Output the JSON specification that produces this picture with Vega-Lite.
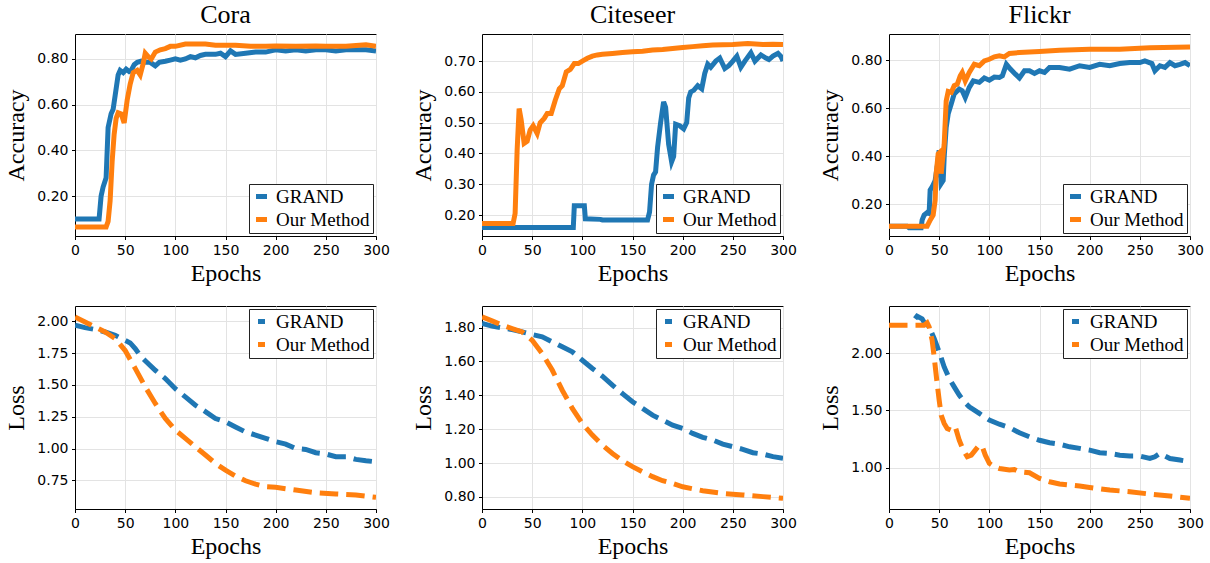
{
  "$schema": "https://vega.github.io/schema/vega-lite/v6.json",
  "background": "white",
  "padding": {"left": 4, "top": 1, "right": 4, "bottom": 4},
  "bounds": "flush",
  "columns": 3,
  "spacing": {"row": 70, "column": 106},
  "resolve": {"legend": {"color": "independent"}, "scale": {"x": "independent", "y": "independent"}},
  "config": {
    "font": "DejaVu Sans",
    "view": {"stroke": "#000", "strokeWidth": 1},
    "axis": {"domainColor": "#000", "tickColor": "#000", "tickSize": 3.5, "labelFont": "DejaVu Sans", "labelFontSize": 14, "labelColor": "#000", "labelPadding": 3.5, "labelFlush": false, "titleFont": "Liberation Serif", "titleFontSize": 24, "titleFontWeight": "normal", "titleColor": "#000", "gridColor": "#e3e3e3", "gridWidth": 1, "titlePadding": 8},
    "axisX": {"titlePadding": 4},
    "title": {"font": "Liberation Serif", "fontSize": 26, "fontWeight": "normal", "color": "#000", "frame": "group", "offset": 6},
    "legend": {"labelFont": "Liberation Serif", "labelFontSize": 19, "labelColor": "#000", "symbolType": "stroke", "symbolStrokeWidth": 5, "padding": 3, "rowPadding": 2, "labelOffset": 5, "strokeColor": "#222", "fillColor": "white", "cornerRadius": 0, "offset": 3, "title": null}
  },
  "data": {"values": [
    {"panel": "cora_acc", "method": "GRAND", "epoch": 0, "value": 0.1},
    {"panel": "cora_acc", "method": "GRAND", "epoch": 24, "value": 0.1},
    {"panel": "cora_acc", "method": "GRAND", "epoch": 26, "value": 0.2},
    {"panel": "cora_acc", "method": "GRAND", "epoch": 28, "value": 0.24},
    {"panel": "cora_acc", "method": "GRAND", "epoch": 31, "value": 0.28},
    {"panel": "cora_acc", "method": "GRAND", "epoch": 33, "value": 0.5},
    {"panel": "cora_acc", "method": "GRAND", "epoch": 36, "value": 0.56},
    {"panel": "cora_acc", "method": "GRAND", "epoch": 38, "value": 0.58},
    {"panel": "cora_acc", "method": "GRAND", "epoch": 40, "value": 0.64},
    {"panel": "cora_acc", "method": "GRAND", "epoch": 43, "value": 0.73},
    {"panel": "cora_acc", "method": "GRAND", "epoch": 45, "value": 0.75},
    {"panel": "cora_acc", "method": "GRAND", "epoch": 48, "value": 0.74},
    {"panel": "cora_acc", "method": "GRAND", "epoch": 51, "value": 0.755},
    {"panel": "cora_acc", "method": "GRAND", "epoch": 54, "value": 0.745},
    {"panel": "cora_acc", "method": "GRAND", "epoch": 56, "value": 0.75},
    {"panel": "cora_acc", "method": "GRAND", "epoch": 59, "value": 0.775},
    {"panel": "cora_acc", "method": "GRAND", "epoch": 62, "value": 0.785},
    {"panel": "cora_acc", "method": "GRAND", "epoch": 66, "value": 0.79},
    {"panel": "cora_acc", "method": "GRAND", "epoch": 70, "value": 0.785},
    {"panel": "cora_acc", "method": "GRAND", "epoch": 75, "value": 0.785},
    {"panel": "cora_acc", "method": "GRAND", "epoch": 80, "value": 0.77},
    {"panel": "cora_acc", "method": "GRAND", "epoch": 84, "value": 0.785},
    {"panel": "cora_acc", "method": "GRAND", "epoch": 90, "value": 0.79},
    {"panel": "cora_acc", "method": "GRAND", "epoch": 95, "value": 0.795},
    {"panel": "cora_acc", "method": "GRAND", "epoch": 100, "value": 0.8},
    {"panel": "cora_acc", "method": "GRAND", "epoch": 105, "value": 0.795},
    {"panel": "cora_acc", "method": "GRAND", "epoch": 110, "value": 0.8},
    {"panel": "cora_acc", "method": "GRAND", "epoch": 115, "value": 0.81},
    {"panel": "cora_acc", "method": "GRAND", "epoch": 120, "value": 0.805},
    {"panel": "cora_acc", "method": "GRAND", "epoch": 125, "value": 0.815},
    {"panel": "cora_acc", "method": "GRAND", "epoch": 130, "value": 0.82},
    {"panel": "cora_acc", "method": "GRAND", "epoch": 140, "value": 0.82},
    {"panel": "cora_acc", "method": "GRAND", "epoch": 145, "value": 0.825},
    {"panel": "cora_acc", "method": "GRAND", "epoch": 150, "value": 0.81},
    {"panel": "cora_acc", "method": "GRAND", "epoch": 155, "value": 0.835},
    {"panel": "cora_acc", "method": "GRAND", "epoch": 160, "value": 0.82},
    {"panel": "cora_acc", "method": "GRAND", "epoch": 170, "value": 0.825},
    {"panel": "cora_acc", "method": "GRAND", "epoch": 180, "value": 0.83},
    {"panel": "cora_acc", "method": "GRAND", "epoch": 190, "value": 0.83},
    {"panel": "cora_acc", "method": "GRAND", "epoch": 200, "value": 0.84},
    {"panel": "cora_acc", "method": "GRAND", "epoch": 210, "value": 0.835},
    {"panel": "cora_acc", "method": "GRAND", "epoch": 220, "value": 0.84},
    {"panel": "cora_acc", "method": "GRAND", "epoch": 230, "value": 0.835},
    {"panel": "cora_acc", "method": "GRAND", "epoch": 240, "value": 0.84},
    {"panel": "cora_acc", "method": "GRAND", "epoch": 250, "value": 0.84},
    {"panel": "cora_acc", "method": "GRAND", "epoch": 260, "value": 0.835},
    {"panel": "cora_acc", "method": "GRAND", "epoch": 270, "value": 0.84},
    {"panel": "cora_acc", "method": "GRAND", "epoch": 280, "value": 0.84},
    {"panel": "cora_acc", "method": "GRAND", "epoch": 290, "value": 0.84},
    {"panel": "cora_acc", "method": "GRAND", "epoch": 300, "value": 0.835},
    {"panel": "cora_acc", "method": "Our Method", "epoch": 0, "value": 0.065},
    {"panel": "cora_acc", "method": "Our Method", "epoch": 31, "value": 0.065},
    {"panel": "cora_acc", "method": "Our Method", "epoch": 33, "value": 0.09},
    {"panel": "cora_acc", "method": "Our Method", "epoch": 35, "value": 0.18},
    {"panel": "cora_acc", "method": "Our Method", "epoch": 37, "value": 0.35},
    {"panel": "cora_acc", "method": "Our Method", "epoch": 39, "value": 0.47},
    {"panel": "cora_acc", "method": "Our Method", "epoch": 41, "value": 0.54},
    {"panel": "cora_acc", "method": "Our Method", "epoch": 43, "value": 0.565},
    {"panel": "cora_acc", "method": "Our Method", "epoch": 46, "value": 0.56},
    {"panel": "cora_acc", "method": "Our Method", "epoch": 49, "value": 0.52},
    {"panel": "cora_acc", "method": "Our Method", "epoch": 52, "value": 0.62},
    {"panel": "cora_acc", "method": "Our Method", "epoch": 55, "value": 0.69},
    {"panel": "cora_acc", "method": "Our Method", "epoch": 58, "value": 0.74},
    {"panel": "cora_acc", "method": "Our Method", "epoch": 62, "value": 0.75},
    {"panel": "cora_acc", "method": "Our Method", "epoch": 65, "value": 0.73},
    {"panel": "cora_acc", "method": "Our Method", "epoch": 68, "value": 0.78},
    {"panel": "cora_acc", "method": "Our Method", "epoch": 70, "value": 0.825},
    {"panel": "cora_acc", "method": "Our Method", "epoch": 73, "value": 0.81},
    {"panel": "cora_acc", "method": "Our Method", "epoch": 76, "value": 0.8},
    {"panel": "cora_acc", "method": "Our Method", "epoch": 80, "value": 0.83},
    {"panel": "cora_acc", "method": "Our Method", "epoch": 85, "value": 0.84},
    {"panel": "cora_acc", "method": "Our Method", "epoch": 90, "value": 0.845},
    {"panel": "cora_acc", "method": "Our Method", "epoch": 95, "value": 0.855},
    {"panel": "cora_acc", "method": "Our Method", "epoch": 100, "value": 0.855},
    {"panel": "cora_acc", "method": "Our Method", "epoch": 110, "value": 0.865},
    {"panel": "cora_acc", "method": "Our Method", "epoch": 120, "value": 0.865},
    {"panel": "cora_acc", "method": "Our Method", "epoch": 130, "value": 0.865},
    {"panel": "cora_acc", "method": "Our Method", "epoch": 140, "value": 0.86},
    {"panel": "cora_acc", "method": "Our Method", "epoch": 150, "value": 0.86},
    {"panel": "cora_acc", "method": "Our Method", "epoch": 160, "value": 0.86},
    {"panel": "cora_acc", "method": "Our Method", "epoch": 175, "value": 0.855},
    {"panel": "cora_acc", "method": "Our Method", "epoch": 190, "value": 0.855},
    {"panel": "cora_acc", "method": "Our Method", "epoch": 200, "value": 0.857},
    {"panel": "cora_acc", "method": "Our Method", "epoch": 220, "value": 0.855},
    {"panel": "cora_acc", "method": "Our Method", "epoch": 240, "value": 0.857},
    {"panel": "cora_acc", "method": "Our Method", "epoch": 250, "value": 0.855},
    {"panel": "cora_acc", "method": "Our Method", "epoch": 270, "value": 0.855},
    {"panel": "cora_acc", "method": "Our Method", "epoch": 290, "value": 0.862},
    {"panel": "cora_acc", "method": "Our Method", "epoch": 300, "value": 0.855},

    {"panel": "cite_acc", "method": "GRAND", "epoch": 0, "value": 0.16},
    {"panel": "cite_acc", "method": "GRAND", "epoch": 91, "value": 0.16},
    {"panel": "cite_acc", "method": "GRAND", "epoch": 92, "value": 0.23},
    {"panel": "cite_acc", "method": "GRAND", "epoch": 102, "value": 0.23},
    {"panel": "cite_acc", "method": "GRAND", "epoch": 103, "value": 0.188},
    {"panel": "cite_acc", "method": "GRAND", "epoch": 118, "value": 0.186},
    {"panel": "cite_acc", "method": "GRAND", "epoch": 120, "value": 0.184},
    {"panel": "cite_acc", "method": "GRAND", "epoch": 165, "value": 0.184},
    {"panel": "cite_acc", "method": "GRAND", "epoch": 167, "value": 0.21},
    {"panel": "cite_acc", "method": "GRAND", "epoch": 169, "value": 0.3},
    {"panel": "cite_acc", "method": "GRAND", "epoch": 171, "value": 0.33},
    {"panel": "cite_acc", "method": "GRAND", "epoch": 173, "value": 0.34},
    {"panel": "cite_acc", "method": "GRAND", "epoch": 175, "value": 0.42},
    {"panel": "cite_acc", "method": "GRAND", "epoch": 178, "value": 0.5},
    {"panel": "cite_acc", "method": "GRAND", "epoch": 181, "value": 0.568},
    {"panel": "cite_acc", "method": "GRAND", "epoch": 183, "value": 0.55},
    {"panel": "cite_acc", "method": "GRAND", "epoch": 186, "value": 0.43},
    {"panel": "cite_acc", "method": "GRAND", "epoch": 189, "value": 0.373},
    {"panel": "cite_acc", "method": "GRAND", "epoch": 191, "value": 0.39},
    {"panel": "cite_acc", "method": "GRAND", "epoch": 193, "value": 0.495},
    {"panel": "cite_acc", "method": "GRAND", "epoch": 197, "value": 0.49},
    {"panel": "cite_acc", "method": "GRAND", "epoch": 201, "value": 0.48},
    {"panel": "cite_acc", "method": "GRAND", "epoch": 204, "value": 0.5},
    {"panel": "cite_acc", "method": "GRAND", "epoch": 206, "value": 0.58},
    {"panel": "cite_acc", "method": "GRAND", "epoch": 208, "value": 0.6},
    {"panel": "cite_acc", "method": "GRAND", "epoch": 211, "value": 0.605},
    {"panel": "cite_acc", "method": "GRAND", "epoch": 215, "value": 0.62},
    {"panel": "cite_acc", "method": "GRAND", "epoch": 219, "value": 0.61},
    {"panel": "cite_acc", "method": "GRAND", "epoch": 222, "value": 0.66},
    {"panel": "cite_acc", "method": "GRAND", "epoch": 225, "value": 0.69},
    {"panel": "cite_acc", "method": "GRAND", "epoch": 228, "value": 0.68},
    {"panel": "cite_acc", "method": "GRAND", "epoch": 233, "value": 0.7},
    {"panel": "cite_acc", "method": "GRAND", "epoch": 237, "value": 0.71},
    {"panel": "cite_acc", "method": "GRAND", "epoch": 242, "value": 0.676},
    {"panel": "cite_acc", "method": "GRAND", "epoch": 246, "value": 0.685},
    {"panel": "cite_acc", "method": "GRAND", "epoch": 250, "value": 0.7},
    {"panel": "cite_acc", "method": "GRAND", "epoch": 254, "value": 0.716},
    {"panel": "cite_acc", "method": "GRAND", "epoch": 258, "value": 0.68},
    {"panel": "cite_acc", "method": "GRAND", "epoch": 262, "value": 0.7},
    {"panel": "cite_acc", "method": "GRAND", "epoch": 268, "value": 0.727},
    {"panel": "cite_acc", "method": "GRAND", "epoch": 272, "value": 0.7},
    {"panel": "cite_acc", "method": "GRAND", "epoch": 278, "value": 0.72},
    {"panel": "cite_acc", "method": "GRAND", "epoch": 283, "value": 0.71},
    {"panel": "cite_acc", "method": "GRAND", "epoch": 286, "value": 0.705},
    {"panel": "cite_acc", "method": "GRAND", "epoch": 290, "value": 0.716},
    {"panel": "cite_acc", "method": "GRAND", "epoch": 295, "value": 0.725},
    {"panel": "cite_acc", "method": "GRAND", "epoch": 298, "value": 0.715},
    {"panel": "cite_acc", "method": "GRAND", "epoch": 300, "value": 0.7},
    {"panel": "cite_acc", "method": "Our Method", "epoch": 0, "value": 0.173},
    {"panel": "cite_acc", "method": "Our Method", "epoch": 31, "value": 0.173},
    {"panel": "cite_acc", "method": "Our Method", "epoch": 33, "value": 0.205},
    {"panel": "cite_acc", "method": "Our Method", "epoch": 35, "value": 0.41},
    {"panel": "cite_acc", "method": "Our Method", "epoch": 37, "value": 0.546},
    {"panel": "cite_acc", "method": "Our Method", "epoch": 39, "value": 0.51},
    {"panel": "cite_acc", "method": "Our Method", "epoch": 42, "value": 0.433},
    {"panel": "cite_acc", "method": "Our Method", "epoch": 45, "value": 0.44},
    {"panel": "cite_acc", "method": "Our Method", "epoch": 48, "value": 0.476},
    {"panel": "cite_acc", "method": "Our Method", "epoch": 51, "value": 0.49},
    {"panel": "cite_acc", "method": "Our Method", "epoch": 55, "value": 0.465},
    {"panel": "cite_acc", "method": "Our Method", "epoch": 58, "value": 0.5},
    {"panel": "cite_acc", "method": "Our Method", "epoch": 62, "value": 0.514},
    {"panel": "cite_acc", "method": "Our Method", "epoch": 65, "value": 0.53},
    {"panel": "cite_acc", "method": "Our Method", "epoch": 69, "value": 0.53},
    {"panel": "cite_acc", "method": "Our Method", "epoch": 73, "value": 0.573},
    {"panel": "cite_acc", "method": "Our Method", "epoch": 77, "value": 0.61},
    {"panel": "cite_acc", "method": "Our Method", "epoch": 80, "value": 0.62},
    {"panel": "cite_acc", "method": "Our Method", "epoch": 84, "value": 0.665},
    {"panel": "cite_acc", "method": "Our Method", "epoch": 88, "value": 0.673},
    {"panel": "cite_acc", "method": "Our Method", "epoch": 92, "value": 0.692},
    {"panel": "cite_acc", "method": "Our Method", "epoch": 96, "value": 0.692},
    {"panel": "cite_acc", "method": "Our Method", "epoch": 100, "value": 0.7},
    {"panel": "cite_acc", "method": "Our Method", "epoch": 105, "value": 0.709},
    {"panel": "cite_acc", "method": "Our Method", "epoch": 110, "value": 0.716},
    {"panel": "cite_acc", "method": "Our Method", "epoch": 115, "value": 0.72},
    {"panel": "cite_acc", "method": "Our Method", "epoch": 120, "value": 0.722},
    {"panel": "cite_acc", "method": "Our Method", "epoch": 130, "value": 0.725},
    {"panel": "cite_acc", "method": "Our Method", "epoch": 140, "value": 0.728},
    {"panel": "cite_acc", "method": "Our Method", "epoch": 150, "value": 0.73},
    {"panel": "cite_acc", "method": "Our Method", "epoch": 160, "value": 0.732},
    {"panel": "cite_acc", "method": "Our Method", "epoch": 170, "value": 0.736},
    {"panel": "cite_acc", "method": "Our Method", "epoch": 180, "value": 0.738},
    {"panel": "cite_acc", "method": "Our Method", "epoch": 190, "value": 0.741},
    {"panel": "cite_acc", "method": "Our Method", "epoch": 200, "value": 0.744},
    {"panel": "cite_acc", "method": "Our Method", "epoch": 210, "value": 0.747},
    {"panel": "cite_acc", "method": "Our Method", "epoch": 220, "value": 0.75},
    {"panel": "cite_acc", "method": "Our Method", "epoch": 230, "value": 0.752},
    {"panel": "cite_acc", "method": "Our Method", "epoch": 240, "value": 0.753},
    {"panel": "cite_acc", "method": "Our Method", "epoch": 250, "value": 0.754},
    {"panel": "cite_acc", "method": "Our Method", "epoch": 265, "value": 0.757},
    {"panel": "cite_acc", "method": "Our Method", "epoch": 280, "value": 0.754},
    {"panel": "cite_acc", "method": "Our Method", "epoch": 290, "value": 0.755},
    {"panel": "cite_acc", "method": "Our Method", "epoch": 300, "value": 0.754},

    {"panel": "flickr_acc", "method": "GRAND", "epoch": 0, "value": 0.11},
    {"panel": "flickr_acc", "method": "GRAND", "epoch": 18, "value": 0.11},
    {"panel": "flickr_acc", "method": "GRAND", "epoch": 20, "value": 0.103},
    {"panel": "flickr_acc", "method": "GRAND", "epoch": 32, "value": 0.103},
    {"panel": "flickr_acc", "method": "GRAND", "epoch": 33, "value": 0.135},
    {"panel": "flickr_acc", "method": "GRAND", "epoch": 35, "value": 0.156},
    {"panel": "flickr_acc", "method": "GRAND", "epoch": 38, "value": 0.166},
    {"panel": "flickr_acc", "method": "GRAND", "epoch": 40, "value": 0.163},
    {"panel": "flickr_acc", "method": "GRAND", "epoch": 41, "value": 0.26},
    {"panel": "flickr_acc", "method": "GRAND", "epoch": 43, "value": 0.273},
    {"panel": "flickr_acc", "method": "GRAND", "epoch": 46, "value": 0.3},
    {"panel": "flickr_acc", "method": "GRAND", "epoch": 48, "value": 0.356},
    {"panel": "flickr_acc", "method": "GRAND", "epoch": 50, "value": 0.425},
    {"panel": "flickr_acc", "method": "GRAND", "epoch": 51, "value": 0.356},
    {"panel": "flickr_acc", "method": "GRAND", "epoch": 52, "value": 0.287},
    {"panel": "flickr_acc", "method": "GRAND", "epoch": 54, "value": 0.3},
    {"panel": "flickr_acc", "method": "GRAND", "epoch": 55, "value": 0.397},
    {"panel": "flickr_acc", "method": "GRAND", "epoch": 57, "value": 0.52},
    {"panel": "flickr_acc", "method": "GRAND", "epoch": 59, "value": 0.577},
    {"panel": "flickr_acc", "method": "GRAND", "epoch": 62, "value": 0.618},
    {"panel": "flickr_acc", "method": "GRAND", "epoch": 65, "value": 0.66},
    {"panel": "flickr_acc", "method": "GRAND", "epoch": 70, "value": 0.68},
    {"panel": "flickr_acc", "method": "GRAND", "epoch": 73, "value": 0.673},
    {"panel": "flickr_acc", "method": "GRAND", "epoch": 76, "value": 0.645},
    {"panel": "flickr_acc", "method": "GRAND", "epoch": 80, "value": 0.687},
    {"panel": "flickr_acc", "method": "GRAND", "epoch": 84, "value": 0.714},
    {"panel": "flickr_acc", "method": "GRAND", "epoch": 90, "value": 0.708},
    {"panel": "flickr_acc", "method": "GRAND", "epoch": 95, "value": 0.726},
    {"panel": "flickr_acc", "method": "GRAND", "epoch": 100, "value": 0.717},
    {"panel": "flickr_acc", "method": "GRAND", "epoch": 105, "value": 0.73},
    {"panel": "flickr_acc", "method": "GRAND", "epoch": 110, "value": 0.728},
    {"panel": "flickr_acc", "method": "GRAND", "epoch": 113, "value": 0.735},
    {"panel": "flickr_acc", "method": "GRAND", "epoch": 117, "value": 0.783},
    {"panel": "flickr_acc", "method": "GRAND", "epoch": 121, "value": 0.763},
    {"panel": "flickr_acc", "method": "GRAND", "epoch": 126, "value": 0.742},
    {"panel": "flickr_acc", "method": "GRAND", "epoch": 130, "value": 0.726},
    {"panel": "flickr_acc", "method": "GRAND", "epoch": 135, "value": 0.756},
    {"panel": "flickr_acc", "method": "GRAND", "epoch": 140, "value": 0.756},
    {"panel": "flickr_acc", "method": "GRAND", "epoch": 145, "value": 0.745},
    {"panel": "flickr_acc", "method": "GRAND", "epoch": 150, "value": 0.756},
    {"panel": "flickr_acc", "method": "GRAND", "epoch": 155, "value": 0.749},
    {"panel": "flickr_acc", "method": "GRAND", "epoch": 160, "value": 0.77},
    {"panel": "flickr_acc", "method": "GRAND", "epoch": 170, "value": 0.77},
    {"panel": "flickr_acc", "method": "GRAND", "epoch": 180, "value": 0.763},
    {"panel": "flickr_acc", "method": "GRAND", "epoch": 190, "value": 0.777},
    {"panel": "flickr_acc", "method": "GRAND", "epoch": 200, "value": 0.77},
    {"panel": "flickr_acc", "method": "GRAND", "epoch": 210, "value": 0.783},
    {"panel": "flickr_acc", "method": "GRAND", "epoch": 220, "value": 0.777},
    {"panel": "flickr_acc", "method": "GRAND", "epoch": 230, "value": 0.786},
    {"panel": "flickr_acc", "method": "GRAND", "epoch": 240, "value": 0.79},
    {"panel": "flickr_acc", "method": "GRAND", "epoch": 250, "value": 0.79},
    {"panel": "flickr_acc", "method": "GRAND", "epoch": 255, "value": 0.797},
    {"panel": "flickr_acc", "method": "GRAND", "epoch": 262, "value": 0.786},
    {"panel": "flickr_acc", "method": "GRAND", "epoch": 265, "value": 0.756},
    {"panel": "flickr_acc", "method": "GRAND", "epoch": 270, "value": 0.777},
    {"panel": "flickr_acc", "method": "GRAND", "epoch": 275, "value": 0.77},
    {"panel": "flickr_acc", "method": "GRAND", "epoch": 280, "value": 0.79},
    {"panel": "flickr_acc", "method": "GRAND", "epoch": 285, "value": 0.777},
    {"panel": "flickr_acc", "method": "GRAND", "epoch": 290, "value": 0.783},
    {"panel": "flickr_acc", "method": "GRAND", "epoch": 295, "value": 0.79},
    {"panel": "flickr_acc", "method": "GRAND", "epoch": 300, "value": 0.777},
    {"panel": "flickr_acc", "method": "Our Method", "epoch": 0, "value": 0.11},
    {"panel": "flickr_acc", "method": "Our Method", "epoch": 38, "value": 0.11},
    {"panel": "flickr_acc", "method": "Our Method", "epoch": 41, "value": 0.135},
    {"panel": "flickr_acc", "method": "Our Method", "epoch": 44, "value": 0.156},
    {"panel": "flickr_acc", "method": "Our Method", "epoch": 46, "value": 0.218},
    {"panel": "flickr_acc", "method": "Our Method", "epoch": 47, "value": 0.328},
    {"panel": "flickr_acc", "method": "Our Method", "epoch": 49, "value": 0.41},
    {"panel": "flickr_acc", "method": "Our Method", "epoch": 51, "value": 0.418},
    {"panel": "flickr_acc", "method": "Our Method", "epoch": 52, "value": 0.328},
    {"panel": "flickr_acc", "method": "Our Method", "epoch": 53, "value": 0.37},
    {"panel": "flickr_acc", "method": "Our Method", "epoch": 55, "value": 0.45},
    {"panel": "flickr_acc", "method": "Our Method", "epoch": 57, "value": 0.63},
    {"panel": "flickr_acc", "method": "Our Method", "epoch": 59, "value": 0.67},
    {"panel": "flickr_acc", "method": "Our Method", "epoch": 62, "value": 0.666},
    {"panel": "flickr_acc", "method": "Our Method", "epoch": 65, "value": 0.694},
    {"panel": "flickr_acc", "method": "Our Method", "epoch": 68, "value": 0.7},
    {"panel": "flickr_acc", "method": "Our Method", "epoch": 71, "value": 0.735},
    {"panel": "flickr_acc", "method": "Our Method", "epoch": 73, "value": 0.749},
    {"panel": "flickr_acc", "method": "Our Method", "epoch": 76, "value": 0.714},
    {"panel": "flickr_acc", "method": "Our Method", "epoch": 80, "value": 0.749},
    {"panel": "flickr_acc", "method": "Our Method", "epoch": 85, "value": 0.783},
    {"panel": "flickr_acc", "method": "Our Method", "epoch": 90, "value": 0.777},
    {"panel": "flickr_acc", "method": "Our Method", "epoch": 95, "value": 0.797},
    {"panel": "flickr_acc", "method": "Our Method", "epoch": 100, "value": 0.804},
    {"panel": "flickr_acc", "method": "Our Method", "epoch": 105, "value": 0.814},
    {"panel": "flickr_acc", "method": "Our Method", "epoch": 110, "value": 0.818},
    {"panel": "flickr_acc", "method": "Our Method", "epoch": 115, "value": 0.814},
    {"panel": "flickr_acc", "method": "Our Method", "epoch": 120, "value": 0.828},
    {"panel": "flickr_acc", "method": "Our Method", "epoch": 130, "value": 0.832},
    {"panel": "flickr_acc", "method": "Our Method", "epoch": 150, "value": 0.836},
    {"panel": "flickr_acc", "method": "Our Method", "epoch": 170, "value": 0.841},
    {"panel": "flickr_acc", "method": "Our Method", "epoch": 200, "value": 0.846},
    {"panel": "flickr_acc", "method": "Our Method", "epoch": 230, "value": 0.846},
    {"panel": "flickr_acc", "method": "Our Method", "epoch": 260, "value": 0.852},
    {"panel": "flickr_acc", "method": "Our Method", "epoch": 300, "value": 0.855},

    {"panel": "cora_loss", "method": "GRAND", "epoch": 0, "value": 1.969},
    {"panel": "cora_loss", "method": "GRAND", "epoch": 10, "value": 1.95},
    {"panel": "cora_loss", "method": "GRAND", "epoch": 20, "value": 1.935},
    {"panel": "cora_loss", "method": "GRAND", "epoch": 30, "value": 1.916},
    {"panel": "cora_loss", "method": "GRAND", "epoch": 40, "value": 1.89},
    {"panel": "cora_loss", "method": "GRAND", "epoch": 50, "value": 1.85},
    {"panel": "cora_loss", "method": "GRAND", "epoch": 55, "value": 1.83},
    {"panel": "cora_loss", "method": "GRAND", "epoch": 60, "value": 1.786},
    {"panel": "cora_loss", "method": "GRAND", "epoch": 65, "value": 1.73},
    {"panel": "cora_loss", "method": "GRAND", "epoch": 70, "value": 1.69},
    {"panel": "cora_loss", "method": "GRAND", "epoch": 80, "value": 1.615},
    {"panel": "cora_loss", "method": "GRAND", "epoch": 90, "value": 1.55},
    {"panel": "cora_loss", "method": "GRAND", "epoch": 100, "value": 1.47},
    {"panel": "cora_loss", "method": "GRAND", "epoch": 110, "value": 1.406},
    {"panel": "cora_loss", "method": "GRAND", "epoch": 120, "value": 1.34},
    {"panel": "cora_loss", "method": "GRAND", "epoch": 130, "value": 1.29},
    {"panel": "cora_loss", "method": "GRAND", "epoch": 140, "value": 1.236},
    {"panel": "cora_loss", "method": "GRAND", "epoch": 150, "value": 1.21},
    {"panel": "cora_loss", "method": "GRAND", "epoch": 160, "value": 1.17},
    {"panel": "cora_loss", "method": "GRAND", "epoch": 170, "value": 1.13},
    {"panel": "cora_loss", "method": "GRAND", "epoch": 180, "value": 1.106},
    {"panel": "cora_loss", "method": "GRAND", "epoch": 190, "value": 1.08},
    {"panel": "cora_loss", "method": "GRAND", "epoch": 200, "value": 1.054},
    {"panel": "cora_loss", "method": "GRAND", "epoch": 210, "value": 1.035},
    {"panel": "cora_loss", "method": "GRAND", "epoch": 220, "value": 1.0},
    {"panel": "cora_loss", "method": "GRAND", "epoch": 230, "value": 0.993},
    {"panel": "cora_loss", "method": "GRAND", "epoch": 240, "value": 0.967},
    {"panel": "cora_loss", "method": "GRAND", "epoch": 250, "value": 0.957},
    {"panel": "cora_loss", "method": "GRAND", "epoch": 260, "value": 0.936},
    {"panel": "cora_loss", "method": "GRAND", "epoch": 270, "value": 0.936},
    {"panel": "cora_loss", "method": "GRAND", "epoch": 280, "value": 0.915},
    {"panel": "cora_loss", "method": "GRAND", "epoch": 290, "value": 0.904},
    {"panel": "cora_loss", "method": "GRAND", "epoch": 300, "value": 0.896},
    {"panel": "cora_loss", "method": "Our Method", "epoch": 0, "value": 2.034},
    {"panel": "cora_loss", "method": "Our Method", "epoch": 10, "value": 1.995},
    {"panel": "cora_loss", "method": "Our Method", "epoch": 20, "value": 1.955},
    {"panel": "cora_loss", "method": "Our Method", "epoch": 30, "value": 1.916},
    {"panel": "cora_loss", "method": "Our Method", "epoch": 40, "value": 1.864},
    {"panel": "cora_loss", "method": "Our Method", "epoch": 50, "value": 1.77},
    {"panel": "cora_loss", "method": "Our Method", "epoch": 60, "value": 1.63},
    {"panel": "cora_loss", "method": "Our Method", "epoch": 70, "value": 1.485},
    {"panel": "cora_loss", "method": "Our Method", "epoch": 80, "value": 1.354},
    {"panel": "cora_loss", "method": "Our Method", "epoch": 90, "value": 1.236},
    {"panel": "cora_loss", "method": "Our Method", "epoch": 100, "value": 1.145},
    {"panel": "cora_loss", "method": "Our Method", "epoch": 110, "value": 1.08},
    {"panel": "cora_loss", "method": "Our Method", "epoch": 120, "value": 1.014},
    {"panel": "cora_loss", "method": "Our Method", "epoch": 130, "value": 0.949},
    {"panel": "cora_loss", "method": "Our Method", "epoch": 140, "value": 0.883},
    {"panel": "cora_loss", "method": "Our Method", "epoch": 150, "value": 0.83},
    {"panel": "cora_loss", "method": "Our Method", "epoch": 160, "value": 0.784},
    {"panel": "cora_loss", "method": "Our Method", "epoch": 170, "value": 0.747},
    {"panel": "cora_loss", "method": "Our Method", "epoch": 180, "value": 0.72},
    {"panel": "cora_loss", "method": "Our Method", "epoch": 190, "value": 0.7},
    {"panel": "cora_loss", "method": "Our Method", "epoch": 200, "value": 0.695},
    {"panel": "cora_loss", "method": "Our Method", "epoch": 220, "value": 0.674},
    {"panel": "cora_loss", "method": "Our Method", "epoch": 240, "value": 0.653},
    {"panel": "cora_loss", "method": "Our Method", "epoch": 260, "value": 0.643},
    {"panel": "cora_loss", "method": "Our Method", "epoch": 280, "value": 0.635},
    {"panel": "cora_loss", "method": "Our Method", "epoch": 300, "value": 0.617},

    {"panel": "cite_loss", "method": "GRAND", "epoch": 0, "value": 1.824},
    {"panel": "cite_loss", "method": "GRAND", "epoch": 10, "value": 1.808},
    {"panel": "cite_loss", "method": "GRAND", "epoch": 20, "value": 1.798},
    {"panel": "cite_loss", "method": "GRAND", "epoch": 30, "value": 1.788},
    {"panel": "cite_loss", "method": "GRAND", "epoch": 40, "value": 1.774},
    {"panel": "cite_loss", "method": "GRAND", "epoch": 50, "value": 1.759},
    {"panel": "cite_loss", "method": "GRAND", "epoch": 60, "value": 1.745},
    {"panel": "cite_loss", "method": "GRAND", "epoch": 70, "value": 1.716},
    {"panel": "cite_loss", "method": "GRAND", "epoch": 80, "value": 1.686},
    {"panel": "cite_loss", "method": "GRAND", "epoch": 90, "value": 1.657},
    {"panel": "cite_loss", "method": "GRAND", "epoch": 100, "value": 1.607},
    {"panel": "cite_loss", "method": "GRAND", "epoch": 110, "value": 1.558},
    {"panel": "cite_loss", "method": "GRAND", "epoch": 120, "value": 1.513},
    {"panel": "cite_loss", "method": "GRAND", "epoch": 130, "value": 1.46},
    {"panel": "cite_loss", "method": "GRAND", "epoch": 140, "value": 1.41},
    {"panel": "cite_loss", "method": "GRAND", "epoch": 150, "value": 1.362},
    {"panel": "cite_loss", "method": "GRAND", "epoch": 160, "value": 1.323},
    {"panel": "cite_loss", "method": "GRAND", "epoch": 170, "value": 1.283},
    {"panel": "cite_loss", "method": "GRAND", "epoch": 180, "value": 1.254},
    {"panel": "cite_loss", "method": "GRAND", "epoch": 190, "value": 1.224},
    {"panel": "cite_loss", "method": "GRAND", "epoch": 200, "value": 1.205},
    {"panel": "cite_loss", "method": "GRAND", "epoch": 210, "value": 1.175},
    {"panel": "cite_loss", "method": "GRAND", "epoch": 220, "value": 1.152},
    {"panel": "cite_loss", "method": "GRAND", "epoch": 230, "value": 1.136},
    {"panel": "cite_loss", "method": "GRAND", "epoch": 240, "value": 1.112},
    {"panel": "cite_loss", "method": "GRAND", "epoch": 250, "value": 1.097},
    {"panel": "cite_loss", "method": "GRAND", "epoch": 260, "value": 1.081},
    {"panel": "cite_loss", "method": "GRAND", "epoch": 270, "value": 1.061},
    {"panel": "cite_loss", "method": "GRAND", "epoch": 280, "value": 1.053},
    {"panel": "cite_loss", "method": "GRAND", "epoch": 290, "value": 1.038},
    {"panel": "cite_loss", "method": "GRAND", "epoch": 300, "value": 1.028},
    {"panel": "cite_loss", "method": "Our Method", "epoch": 0, "value": 1.863},
    {"panel": "cite_loss", "method": "Our Method", "epoch": 10, "value": 1.839},
    {"panel": "cite_loss", "method": "Our Method", "epoch": 20, "value": 1.814},
    {"panel": "cite_loss", "method": "Our Method", "epoch": 30, "value": 1.794},
    {"panel": "cite_loss", "method": "Our Method", "epoch": 40, "value": 1.774},
    {"panel": "cite_loss", "method": "Our Method", "epoch": 50, "value": 1.725},
    {"panel": "cite_loss", "method": "Our Method", "epoch": 60, "value": 1.647},
    {"panel": "cite_loss", "method": "Our Method", "epoch": 70, "value": 1.549},
    {"panel": "cite_loss", "method": "Our Method", "epoch": 80, "value": 1.43},
    {"panel": "cite_loss", "method": "Our Method", "epoch": 90, "value": 1.323},
    {"panel": "cite_loss", "method": "Our Method", "epoch": 100, "value": 1.234},
    {"panel": "cite_loss", "method": "Our Method", "epoch": 110, "value": 1.165},
    {"panel": "cite_loss", "method": "Our Method", "epoch": 120, "value": 1.106},
    {"panel": "cite_loss", "method": "Our Method", "epoch": 130, "value": 1.057},
    {"panel": "cite_loss", "method": "Our Method", "epoch": 140, "value": 1.014},
    {"panel": "cite_loss", "method": "Our Method", "epoch": 150, "value": 0.979},
    {"panel": "cite_loss", "method": "Our Method", "epoch": 160, "value": 0.949},
    {"panel": "cite_loss", "method": "Our Method", "epoch": 170, "value": 0.92},
    {"panel": "cite_loss", "method": "Our Method", "epoch": 180, "value": 0.896},
    {"panel": "cite_loss", "method": "Our Method", "epoch": 190, "value": 0.88},
    {"panel": "cite_loss", "method": "Our Method", "epoch": 200, "value": 0.86},
    {"panel": "cite_loss", "method": "Our Method", "epoch": 220, "value": 0.837},
    {"panel": "cite_loss", "method": "Our Method", "epoch": 240, "value": 0.821},
    {"panel": "cite_loss", "method": "Our Method", "epoch": 260, "value": 0.812},
    {"panel": "cite_loss", "method": "Our Method", "epoch": 280, "value": 0.802},
    {"panel": "cite_loss", "method": "Our Method", "epoch": 300, "value": 0.792},

    {"panel": "flickr_loss", "method": "GRAND", "epoch": 26, "value": 2.3},
    {"panel": "flickr_loss", "method": "GRAND", "epoch": 28, "value": 2.323},
    {"panel": "flickr_loss", "method": "GRAND", "epoch": 33, "value": 2.3},
    {"panel": "flickr_loss", "method": "GRAND", "epoch": 35, "value": 2.27},
    {"panel": "flickr_loss", "method": "GRAND", "epoch": 40, "value": 2.23},
    {"panel": "flickr_loss", "method": "GRAND", "epoch": 45, "value": 2.128},
    {"panel": "flickr_loss", "method": "GRAND", "epoch": 50, "value": 2.012},
    {"panel": "flickr_loss", "method": "GRAND", "epoch": 55, "value": 1.88},
    {"panel": "flickr_loss", "method": "GRAND", "epoch": 60, "value": 1.78},
    {"panel": "flickr_loss", "method": "GRAND", "epoch": 65, "value": 1.706},
    {"panel": "flickr_loss", "method": "GRAND", "epoch": 70, "value": 1.634},
    {"panel": "flickr_loss", "method": "GRAND", "epoch": 75, "value": 1.576},
    {"panel": "flickr_loss", "method": "GRAND", "epoch": 80, "value": 1.532},
    {"panel": "flickr_loss", "method": "GRAND", "epoch": 90, "value": 1.474},
    {"panel": "flickr_loss", "method": "GRAND", "epoch": 100, "value": 1.416},
    {"panel": "flickr_loss", "method": "GRAND", "epoch": 110, "value": 1.38},
    {"panel": "flickr_loss", "method": "GRAND", "epoch": 120, "value": 1.352},
    {"panel": "flickr_loss", "method": "GRAND", "epoch": 130, "value": 1.305},
    {"panel": "flickr_loss", "method": "GRAND", "epoch": 140, "value": 1.27},
    {"panel": "flickr_loss", "method": "GRAND", "epoch": 150, "value": 1.24},
    {"panel": "flickr_loss", "method": "GRAND", "epoch": 160, "value": 1.218},
    {"panel": "flickr_loss", "method": "GRAND", "epoch": 170, "value": 1.206},
    {"panel": "flickr_loss", "method": "GRAND", "epoch": 180, "value": 1.183},
    {"panel": "flickr_loss", "method": "GRAND", "epoch": 190, "value": 1.169},
    {"panel": "flickr_loss", "method": "GRAND", "epoch": 200, "value": 1.154},
    {"panel": "flickr_loss", "method": "GRAND", "epoch": 210, "value": 1.131},
    {"panel": "flickr_loss", "method": "GRAND", "epoch": 220, "value": 1.125},
    {"panel": "flickr_loss", "method": "GRAND", "epoch": 230, "value": 1.11},
    {"panel": "flickr_loss", "method": "GRAND", "epoch": 240, "value": 1.102},
    {"panel": "flickr_loss", "method": "GRAND", "epoch": 250, "value": 1.102},
    {"panel": "flickr_loss", "method": "GRAND", "epoch": 260, "value": 1.081},
    {"panel": "flickr_loss", "method": "GRAND", "epoch": 265, "value": 1.096},
    {"panel": "flickr_loss", "method": "GRAND", "epoch": 270, "value": 1.125},
    {"panel": "flickr_loss", "method": "GRAND", "epoch": 280, "value": 1.081},
    {"panel": "flickr_loss", "method": "GRAND", "epoch": 290, "value": 1.067},
    {"panel": "flickr_loss", "method": "GRAND", "epoch": 300, "value": 1.052},
    {"panel": "flickr_loss", "method": "Our Method", "epoch": 0, "value": 2.245},
    {"panel": "flickr_loss", "method": "Our Method", "epoch": 35, "value": 2.245},
    {"panel": "flickr_loss", "method": "Our Method", "epoch": 38, "value": 2.265},
    {"panel": "flickr_loss", "method": "Our Method", "epoch": 40, "value": 2.23},
    {"panel": "flickr_loss", "method": "Our Method", "epoch": 43, "value": 2.113},
    {"panel": "flickr_loss", "method": "Our Method", "epoch": 45, "value": 1.968},
    {"panel": "flickr_loss", "method": "Our Method", "epoch": 48, "value": 1.735},
    {"panel": "flickr_loss", "method": "Our Method", "epoch": 50, "value": 1.59},
    {"panel": "flickr_loss", "method": "Our Method", "epoch": 52, "value": 1.459},
    {"panel": "flickr_loss", "method": "Our Method", "epoch": 55, "value": 1.387},
    {"panel": "flickr_loss", "method": "Our Method", "epoch": 58, "value": 1.343},
    {"panel": "flickr_loss", "method": "Our Method", "epoch": 62, "value": 1.328},
    {"panel": "flickr_loss", "method": "Our Method", "epoch": 66, "value": 1.358},
    {"panel": "flickr_loss", "method": "Our Method", "epoch": 70, "value": 1.241},
    {"panel": "flickr_loss", "method": "Our Method", "epoch": 74, "value": 1.154},
    {"panel": "flickr_loss", "method": "Our Method", "epoch": 78, "value": 1.096},
    {"panel": "flickr_loss", "method": "Our Method", "epoch": 82, "value": 1.11},
    {"panel": "flickr_loss", "method": "Our Method", "epoch": 86, "value": 1.154},
    {"panel": "flickr_loss", "method": "Our Method", "epoch": 90, "value": 1.198},
    {"panel": "flickr_loss", "method": "Our Method", "epoch": 93, "value": 1.183},
    {"panel": "flickr_loss", "method": "Our Method", "epoch": 96, "value": 1.11},
    {"panel": "flickr_loss", "method": "Our Method", "epoch": 100, "value": 1.038},
    {"panel": "flickr_loss", "method": "Our Method", "epoch": 105, "value": 1.009},
    {"panel": "flickr_loss", "method": "Our Method", "epoch": 110, "value": 0.994},
    {"panel": "flickr_loss", "method": "Our Method", "epoch": 120, "value": 0.98},
    {"panel": "flickr_loss", "method": "Our Method", "epoch": 125, "value": 0.985},
    {"panel": "flickr_loss", "method": "Our Method", "epoch": 130, "value": 0.965},
    {"panel": "flickr_loss", "method": "Our Method", "epoch": 140, "value": 0.956},
    {"panel": "flickr_loss", "method": "Our Method", "epoch": 150, "value": 0.907},
    {"panel": "flickr_loss", "method": "Our Method", "epoch": 160, "value": 0.878},
    {"panel": "flickr_loss", "method": "Our Method", "epoch": 170, "value": 0.858},
    {"panel": "flickr_loss", "method": "Our Method", "epoch": 180, "value": 0.849},
    {"panel": "flickr_loss", "method": "Our Method", "epoch": 190, "value": 0.84},
    {"panel": "flickr_loss", "method": "Our Method", "epoch": 200, "value": 0.828},
    {"panel": "flickr_loss", "method": "Our Method", "epoch": 220, "value": 0.805},
    {"panel": "flickr_loss", "method": "Our Method", "epoch": 240, "value": 0.791},
    {"panel": "flickr_loss", "method": "Our Method", "epoch": 260, "value": 0.77},
    {"panel": "flickr_loss", "method": "Our Method", "epoch": 280, "value": 0.753},
    {"panel": "flickr_loss", "method": "Our Method", "epoch": 300, "value": 0.733}
  ]},
  "concat": [
    {
      "width": 301, "height": 202, "title": "Cora",
      "transform": [{"filter": "datum.panel === 'cora_acc'"}],
      "mark": {"type": "line", "strokeWidth": 5, "clip": true},
      "encoding": {
        "x": {"field": "epoch", "type": "quantitative", "scale": {"domain": [0, 300], "nice": false}, "axis": {"values": [0, 50, 100, 150, 200, 250, 300], "title": "Epochs"}},
        "y": {"field": "value", "type": "quantitative", "scale": {"domain": [0.026, 0.909], "nice": false, "zero": false}, "axis": {"values": [0.2, 0.4, 0.6, 0.8], "format": ".2f", "title": "Accuracy"}},
        "color": {"field": "method", "type": "nominal", "scale": {"domain": ["GRAND", "Our Method"], "range": ["#1f77b4", "#ff7f0e"]}, "legend": {"orient": "bottom-right", "symbolSize": 121}}
      }
    },
    {
      "width": 301, "height": 202, "title": "Citeseer",
      "transform": [{"filter": "datum.panel === 'cite_acc'"}],
      "mark": {"type": "line", "strokeWidth": 5, "clip": true},
      "encoding": {
        "x": {"field": "epoch", "type": "quantitative", "scale": {"domain": [0, 300], "nice": false}, "axis": {"values": [0, 50, 100, 150, 200, 250, 300], "title": "Epochs"}},
        "y": {"field": "value", "type": "quantitative", "scale": {"domain": [0.132, 0.788], "nice": false, "zero": false}, "axis": {"values": [0.2, 0.3, 0.4, 0.5, 0.6, 0.7], "format": ".2f", "title": "Accuracy"}},
        "color": {"field": "method", "type": "nominal", "scale": {"domain": ["GRAND", "Our Method"], "range": ["#1f77b4", "#ff7f0e"]}, "legend": {"orient": "bottom-right", "symbolSize": 121}}
      }
    },
    {
      "width": 301, "height": 202, "title": "Flickr",
      "transform": [{"filter": "datum.panel === 'flickr_acc'"}],
      "mark": {"type": "line", "strokeWidth": 5, "clip": true},
      "encoding": {
        "x": {"field": "epoch", "type": "quantitative", "scale": {"domain": [0, 300], "nice": false}, "axis": {"values": [0, 50, 100, 150, 200, 250, 300], "title": "Epochs"}},
        "y": {"field": "value", "type": "quantitative", "scale": {"domain": [0.069, 0.909], "nice": false, "zero": false}, "axis": {"values": [0.2, 0.4, 0.6, 0.8], "format": ".2f", "title": "Accuracy"}},
        "color": {"field": "method", "type": "nominal", "scale": {"domain": ["GRAND", "Our Method"], "range": ["#1f77b4", "#ff7f0e"]}, "legend": {"orient": "bottom-right", "symbolSize": 121}}
      }
    },
    {
      "width": 301, "height": 203,
      "transform": [{"filter": "datum.panel === 'cora_loss'"}],
      "mark": {"type": "line", "strokeWidth": 5, "clip": true},
      "encoding": {
        "x": {"field": "epoch", "type": "quantitative", "scale": {"domain": [0, 300], "nice": false}, "axis": {"values": [0, 50, 100, 150, 200, 250, 300], "title": "Epochs"}},
        "y": {"field": "value", "type": "quantitative", "scale": {"domain": [0.525, 2.12], "nice": false, "zero": false}, "axis": {"values": [0.75, 1.0, 1.25, 1.5, 1.75, 2.0], "format": ".2f", "title": "Loss"}},
        "strokeDash": {"value": [18.5, 8]},
        "color": {"field": "method", "type": "nominal", "scale": {"domain": ["GRAND", "Our Method"], "range": ["#1f77b4", "#ff7f0e"]}, "legend": {"orient": "top-right", "symbolSize": 49, "symbolDash": [50, 0]}}
      }
    },
    {
      "width": 301, "height": 203,
      "transform": [{"filter": "datum.panel === 'cite_loss'"}],
      "mark": {"type": "line", "strokeWidth": 5, "clip": true},
      "encoding": {
        "x": {"field": "epoch", "type": "quantitative", "scale": {"domain": [0, 300], "nice": false}, "axis": {"values": [0, 50, 100, 150, 200, 250, 300], "title": "Epochs"}},
        "y": {"field": "value", "type": "quantitative", "scale": {"domain": [0.729, 1.927], "nice": false, "zero": false}, "axis": {"values": [0.8, 1.0, 1.2, 1.4, 1.6, 1.8], "format": ".2f", "title": "Loss"}},
        "strokeDash": {"value": [18.5, 8]},
        "color": {"field": "method", "type": "nominal", "scale": {"domain": ["GRAND", "Our Method"], "range": ["#1f77b4", "#ff7f0e"]}, "legend": {"orient": "top-right", "symbolSize": 49, "symbolDash": [50, 0]}}
      }
    },
    {
      "width": 301, "height": 203,
      "transform": [{"filter": "datum.panel === 'flickr_loss'"}],
      "mark": {"type": "line", "strokeWidth": 5, "clip": true},
      "encoding": {
        "x": {"field": "epoch", "type": "quantitative", "scale": {"domain": [0, 300], "nice": false}, "axis": {"values": [0, 50, 100, 150, 200, 250, 300], "title": "Epochs"}},
        "y": {"field": "value", "type": "quantitative", "scale": {"domain": [0.64, 2.412], "nice": false, "zero": false}, "axis": {"values": [1.0, 1.5, 2.0], "format": ".2f", "title": "Loss"}},
        "strokeDash": {"value": [18.5, 8]},
        "color": {"field": "method", "type": "nominal", "scale": {"domain": ["GRAND", "Our Method"], "range": ["#1f77b4", "#ff7f0e"]}, "legend": {"orient": "top-right", "symbolSize": 49, "symbolDash": [50, 0]}}
      }
    }
  ]
}
